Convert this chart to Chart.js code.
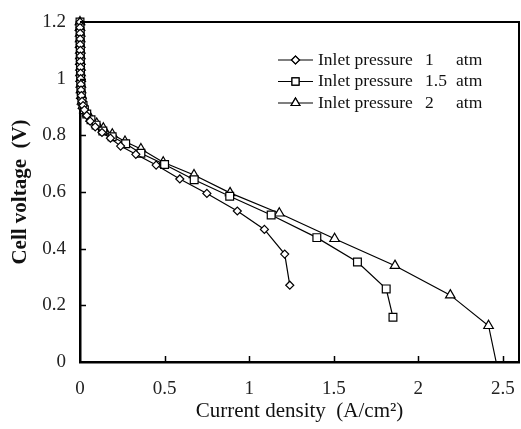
<!DOCTYPE html>
<html lang="en">
<head>
  <meta charset="UTF-8">
  <title>Cell voltage vs current density</title>
  <script src="https://cdn.jsdelivr.net/npm/chart.js"></script>
  <style>
    html, body { margin: 0; padding: 0; background: #fff; }
    #wrap { width: 521px; height: 429px; }
  </style>
</head>
<body>
  <div id="wrap"><canvas id="polChart" width="521" height="429"></canvas></div>

  <script>
    // values: current density (A/cm2) and cell voltage (V)
    const lowX = [0, 0, 0.001, 0.001, 0.001, 0.002, 0.002, 0.002, 0.003, 0.003, 0.004, 0.005, 0.006, 0.008, 0.012, 0.018, 0.026];
    const lowV = [1.2, 1.18, 1.16, 1.14, 1.12, 1.1, 1.08, 1.06, 1.04, 1.02, 1.0, 0.98, 0.96, 0.94, 0.92, 0.905, 0.89];

    const x1 = [0.04, 0.06, 0.09, 0.13, 0.18, 0.24, 0.33, 0.45, 0.59, 0.75, 0.93, 1.09, 1.21, 1.24];
    const v1 = [0.87, 0.85, 0.83, 0.81, 0.79, 0.762, 0.733, 0.695, 0.646, 0.595, 0.533, 0.468, 0.381, 0.271];

    const x15 = [0.04, 0.065, 0.095, 0.135, 0.19, 0.27, 0.36, 0.5, 0.675, 0.885, 1.13, 1.4, 1.64, 1.81, 1.85];
    const v15 = [0.875, 0.855, 0.836, 0.815, 0.795, 0.77, 0.737, 0.697, 0.643, 0.585, 0.519, 0.439, 0.353, 0.258, 0.158];

    const x2 = [0.043, 0.063, 0.099, 0.138, 0.191, 0.266, 0.36, 0.492, 0.674, 0.887, 1.178, 1.505, 1.862, 2.189, 2.415, 2.46];
    const v2 = [0.878, 0.86, 0.842, 0.825, 0.804, 0.778, 0.752, 0.705, 0.66, 0.597, 0.525, 0.435, 0.34, 0.236, 0.128, 0.0];

    const pressures = ['1', '1.5', '2'];
    const xTicks = [0, 0.5, 1, 1.5, 2, 2.5];
    const yTicks = [0, 0.2, 0.4, 0.6, 0.8, 1, 1.2];

    function toPoints(xs, vs) {
      return lowX.concat(xs).map((x, i) => ({ x: x, y: lowV.concat(vs)[i] }));
    }

    const serif = 'Liberation Serif, Times New Roman, serif';

    function makeSet(p, xs, vs, style, radius) {
      const pts = toPoints(xs, vs);
      return {
        label: 'Inlet pressure ' + p + ' atm',
        data: pts,
        showLine: true,
        borderColor: '#000',
        borderWidth: 1.2,
        backgroundColor: '#fff',
        pointStyle: style,
        pointRadius: radius,
        pointBorderWidth: 1.2,
        pointBackgroundColor: '#fff',
        pointBorderColor: '#000',
        tension: 0,
        clip: false
      };
    }

    const sets = [
      makeSet(pressures[0], x1, v1, 'rectRot', 4),
      makeSet(pressures[1], x15, v15, 'rect', 5.5),
      makeSet(pressures[2], x2, v2, 'triangle', 5.5)
    ];
    // last point of the 2 atm curve sits on the axis without a marker
    sets[2].pointRadius = sets[2].data.map((p, i) => i === sets[2].data.length - 1 ? 0 : 5.5);

    // frame, inner tick marks and the legend inside the plot
    const decor = {
      id: 'decor',
      afterDatasetsDraw(chart) {
        const c = chart.ctx;
        const a = chart.chartArea;
        const xs = chart.scales.x, ys = chart.scales.y;
        c.save();
        c.strokeStyle = '#000';
        c.lineWidth = 2;
        c.beginPath();
        c.moveTo(a.left, a.top); c.lineTo(a.right, a.top); c.lineTo(a.right, a.bottom);
        c.stroke();
        c.lineWidth = 1.5;
        c.beginPath();
        xTicks.slice(1).forEach(v => {
          const px = Math.round(xs.getPixelForValue(v)) + 0.5;
          c.moveTo(px, a.bottom); c.lineTo(px, a.bottom - 6);
        });
        yTicks.slice(1, -1).forEach(v => {
          const py = Math.round(ys.getPixelForValue(v)) + 0.5;
          c.moveTo(a.left, py); c.lineTo(a.left + 6, py);
        });
        c.stroke();

        // legend
        c.font = '17.5px ' + serif;
        c.textBaseline = 'middle';
        c.fillStyle = '#111';
        chart.data.datasets.forEach((ds, i) => {
          const y = 60 + i * 21.5;
          c.lineWidth = 1.2;
          c.beginPath(); c.moveTo(278, y); c.lineTo(313, y); c.stroke();
          Chart.helpers.drawPoint(c, {
            pointStyle: ds.pointStyle, radius: i === 0 ? 4 : 5,
            borderWidth: 1.2
          }, 295.5, y);
          c.fillStyle = '#fff';
          c.fill();
          c.stroke();
          c.fillStyle = '#111';
          c.fillText('Inlet pressure', 318, y);
          c.fillText(pressures[i], 425, y);
          c.fillText('atm', 456, y);
        });
        c.restore();
      }
    };

    const ctx = document.getElementById('polChart').getContext('2d');
    new Chart(ctx, {
      type: 'scatter',
      data: { datasets: sets },
      options: {
        responsive: false,
        animation: false,
        devicePixelRatio: 1,
        layout: { autoPadding: false, padding: { left: 0, right: 2, top: 22, bottom: 0 } },
        plugins: { legend: { display: false }, tooltip: { enabled: false } },
        scales: {
          x: {
            type: 'linear',
            min: 0,
            max: 2.595,
            afterBuildTicks: s => { s.ticks = xTicks.map(v => ({ value: v })); },
            afterFit: s => { s.height = 67; s.paddingLeft = 0; s.paddingRight = 0; },
            grid: { drawOnChartArea: false, drawTicks: false },
            border: { display: true, color: '#000', width: 2.5 },
            ticks: {
              padding: 16,
              color: '#222',
              font: { family: serif, size: 19 },
              callback: v => String(v)
            },
            title: {
              display: true,
              text: 'Current density  (A/cm²)',
              color: '#111',
              font: { family: serif, size: 21 },
              padding: { top: 0, bottom: 5 }
            }
          },
          y: {
            type: 'linear',
            min: 0,
            max: 1.2,
            afterBuildTicks: s => { s.ticks = yTicks.map(v => ({ value: v })); },
            afterFit: s => { s.width = 80; s.paddingTop = 0; s.paddingBottom = 0; },
            grid: { drawOnChartArea: false, drawTicks: false },
            border: { display: true, color: '#000', width: 2.5 },
            ticks: {
              padding: 14,
              color: '#222',
              font: { family: serif, size: 19 },
              callback: v => String(v)
            },
            title: {
              display: true,
              text: 'Cell voltage  (V)',
              color: '#111',
              font: { family: serif, size: 21, weight: 'bold' },
              padding: { top: 8, bottom: 0 }
            }
          }
        }
      },
      plugins: [decor]
    });
  </script>
</body>
</html>
